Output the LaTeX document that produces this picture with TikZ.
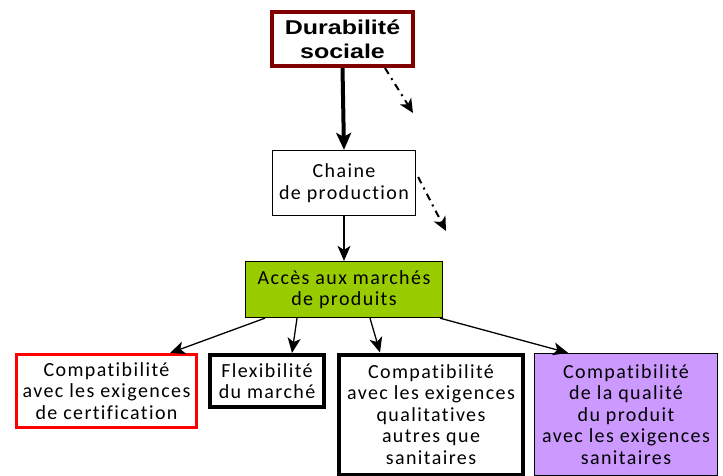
\documentclass[tikz,border=0pt]{standalone}
\usepackage{fontspec}
\setmainfont[LetterSpace=7,Ligatures={NoCommon}]{Carlito}
\newfontfamily\arialb{Liberation Sans}[BoldFont={* Bold}]
\usetikzlibrary{arrows.meta,calc}
\definecolor{darkred}{RGB}{128,0,0}
\definecolor{greenfill}{RGB}{153,204,0}
\definecolor{purplefill}{RGB}{204,153,255}
\newcommand{\wideb}[1]{\scalebox{1.25}[1]{#1}}
\tikzset{
  boxbase/.style={draw, rectangle, inner sep=0pt, align=center, font=\fontsize{20}{21.5}\selectfont},
  arr/.style={-{Stealth[length=15pt,width=13pt,inset=4pt]}, line width=1.3pt},
  dasharr/.style={-{Stealth[length=14pt,width=13pt,inset=4pt]}, line width=2pt, dash pattern=on 7pt off 5pt on 2pt off 5pt},
}
\begin{document}
\begin{tikzpicture}[x=1pt,y=-1pt]
\useasboundingbox (0,0) rectangle (723,476);
% top
\node[boxbase, draw=darkred, line width=4pt, minimum width=141pt, minimum height=54pt,
  font=\arialb\bfseries\fontsize{20}{24}\selectfont] (dur) at (342.5,39) {\wideb{Durabilité}\\\wideb{sociale}};
\node[boxbase, line width=1.3pt, minimum width=143pt, minimum height=65pt] (chain) at (344,183) {Chaine\\de production};
\node[boxbase, fill=greenfill, line width=1.3pt, minimum width=197pt, minimum height=56pt] (acc) at (344,289.5) {Accès aux marchés\\de produits};
\node[boxbase, draw=red, line width=3pt, minimum width=180pt, minimum height=73pt] (cert) at (106.5,391) {Compatibilité\\avec les exigences\\de certification};
\node[boxbase, line width=4pt, minimum width=114pt, minimum height=52pt] (flex) at (267,381) {Flexibilité\\du marché};
\node[boxbase, line width=4pt, minimum width=184pt, minimum height=120pt] (qual) at (431,414.5) {Compatibilité\\avec les exigences\\qualitatives\\autres que\\sanitaires};
\node[boxbase, fill=purplefill, line width=1.3pt, minimum width=183pt, minimum height=122pt] (san) at (626,414.5) {Compatibilité\\de la qualité\\du produit\\avec les exigences\\sanitaires};
% arrows
\draw[-{Stealth[length=17pt,width=15pt,inset=4pt]}, line width=4pt] (dur.south) -- (chain.north);
\draw[arr] (chain.south) -- (acc.north);
\coordinate (d1) at (413,113);
\coordinate (d2) at (446,231);
\draw[dasharr] ([xshift=-30pt]dur.south east) -- (d1);
\draw[dasharr] ([xshift=2pt,yshift=6pt]chain.east) -- (d2);
\draw[arr] ([xshift=-79pt]acc.south) -- ([xshift=63.5pt]cert.north);
\draw[arr] ([xshift=-47pt]acc.south) -- ([xshift=25pt]flex.north);
\draw[arr] ([xshift=26pt]acc.south) -- ([xshift=-51pt]qual.north);
\draw[arr] ([xshift=96pt]acc.south) -- ([xshift=-58pt]san.north);
\end{tikzpicture}
\end{document}
